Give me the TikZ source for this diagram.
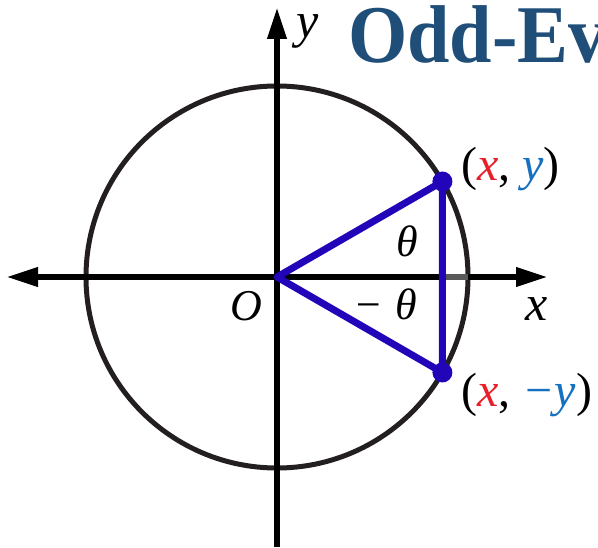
\documentclass[tikz,border=0pt]{standalone}
\usepackage{fontspec}
\setmainfont{Liberation Serif}
\usetikzlibrary{arrows.meta}
\definecolor{titleblue}{RGB}{31,78,121}
\definecolor{triblue}{RGB}{35,5,185}
\definecolor{xred}{RGB}{232,30,42}
\definecolor{yblue}{RGB}{22,112,192}
\definecolor{circgray}{RGB}{35,31,32}
\tikzset{
  axis/.style={line width=6.5pt,black,-{Triangle[length=32pt,width=18pt]}},
  axis2/.style={line width=6.5pt,black,{Triangle[length=32pt,width=18pt]}-{Triangle[length=32pt,width=18pt]}},
  tri/.style={line width=7pt,triblue,line join=round},
  dot/.style={circle,fill=triblue,inner sep=0pt,minimum size=20pt},
  lbl/.style={inner sep=0pt,font=\fontsize{44}{50}\selectfont\itshape},
  axlbl/.style={inner sep=0pt,font=\fontsize{50}{56}\selectfont\itshape},
  ptlbl/.style={inner sep=0pt,font=\fontsize{48}{52}\selectfont},
}
\newcommand{\ivar}[2]{\textcolor{#1}{\textit{#2}}}
\begin{document}
\begin{tikzpicture}[x=1pt,y=-1pt]
\clip (0,0) rectangle (598,548);
\fill[white] (0,0) rectangle (598,548);
% title
\node[anchor=base west,inner sep=0pt,text=titleblue] (title) at (348,63)
  {\scalebox{0.93}[1]{\fontsize{82}{90}\selectfont\bfseries Odd-Even}};
% circle
\coordinate (O) at (277,277);
\draw[circgray,line width=5pt] (O) circle[radius=191];
% axes
\coordinate (xl) at (6,277);
\coordinate (xr) at (548,277);
\coordinate (yb) at (277,547);
\coordinate (yt) at (277,7);
\draw[axis2] (xl) -- (xr);
\draw[axis] (yb) -- (yt);
% points
\path (O) ++(30:191 and -191) coordinate (P);
\path (O) ++(-30:191 and -191) coordinate (Q);
\coordinate (Px) at (P |- O);
\coordinate (Cx) at (468,277);
\draw[line width=6.5pt,black!65] (Px) -- (Cx);
\draw[tri] (P) -- (O) -- (Q) -- cycle;
\node[dot] (p) at (P) {};
\node[dot] (q) at (Q) {};
% labels
\node[lbl] (th) at (407,241) {θ};
\node[lbl] (mth) at (385,304) {−\;θ};
\node[lbl] (o) at (246,306) {O};
\node[axlbl] (xlab) at (537,309) {x};
\node[axlbl] (ylab) at (308,31) {y};
\node[ptlbl,anchor=base west] (plab) at (461,181)
  {(\ivar{xred}{x}, \ivar{yblue}{y})};
\node[ptlbl,anchor=base west] (qlab) at (461,407)
  {(\ivar{xred}{x}, \ivar{yblue}{−y})};
\end{tikzpicture}
\end{document}
